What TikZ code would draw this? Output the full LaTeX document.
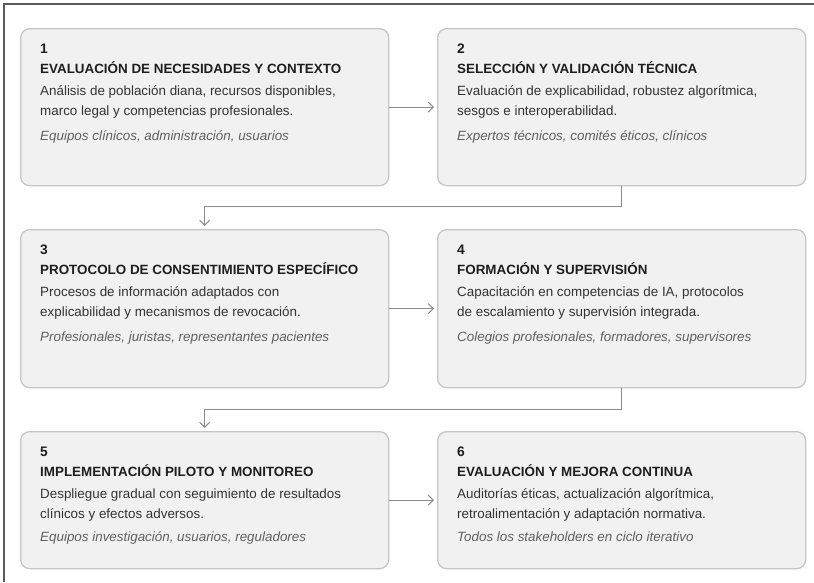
\documentclass[tikz,border=0pt]{standalone}
\usepackage{fontspec}
\setmainfont{Liberation Sans}
\usetikzlibrary{calc, arrows.meta}

\definecolor{boxfill}{HTML}{F1F1F1}
\definecolor{boxline}{HTML}{C6C6C6}
\definecolor{linkgray}{HTML}{8C8C8C}
\definecolor{framegray}{HTML}{5A5A5A}
\definecolor{titletext}{HTML}{1E1E1E}
\definecolor{bodytext}{HTML}{333333}
\definecolor{notetext}{HTML}{606060}

\begin{document}
\begin{tikzpicture}[x=1pt, y=-1pt,
	stage/.style={draw=boxline, fill=boxfill, line width=1.3pt, rounded corners=9pt,
		anchor=north west, minimum width=368pt, inner sep=0pt},
	num/.style={anchor=base west, inner sep=0pt, text=titletext, font=\fontsize{13.8}{16}\selectfont\bfseries},
	heading/.style={anchor=base west, inner sep=0pt, text=titletext, font=\fontsize{13.4}{16}\selectfont\bfseries},
	body/.style={anchor=base west, inner sep=0pt, text=bodytext, font=\fontsize{13.4}{16}\selectfont},
	note/.style={anchor=base west, inner sep=0pt, text=notetext, font=\fontsize{13.4}{16}\selectfont\itshape},
	link/.style={draw=linkgray, line width=1.1pt, shorten >=3pt, -{Straight Barb[length=5pt, width=10pt]}}
	]

	\useasboundingbox (0,0) rectangle (814,582);

% Frame.

	\draw[framegray, line width=2pt] (4,582) -- (4,4) -- (814,4);

% Draw stages.

	\node[stage, minimum height=157pt] (s1) at (20, 28) {};
	\node[stage, minimum height=157pt] (s2) at (437, 28) {};
	\node[stage, minimum height=158pt] (s3) at (20, 229) {};
	\node[stage, minimum height=158pt] (s4) at (437, 229) {};
	\node[stage, minimum height=137pt] (s5) at (20, 431) {};
	\node[stage, minimum height=137pt] (s6) at (437, 431) {};

% Stage texts.

	%stage 1
	\node[num] (n1) at ($(s1.north west) + (20, 25)$) {1};
	\node[heading] (h1) at ($(s1.north west) + (20, 45)$) {EVALUACIÓN DE NECESIDADES Y CONTEXTO};
	\node[body] (b1a) at ($(s1.north west) + (20, 67)$) {Análisis de población diana, recursos disponibles,};
	\node[body] (b1b) at ($(s1.north west) + (20, 87)$) {marco legal y competencias profesionales.};
	\node[note] (e1) at ($(s1.north west) + (20, 112)$) {Equipos clínicos, administración, usuarios};

	%stage 2
	\node[num] (n2) at ($(s2.north west) + (20, 25)$) {2};
	\node[heading] (h2) at ($(s2.north west) + (20, 45)$) {SELECCIÓN Y VALIDACIÓN TÉCNICA};
	\node[body] (b2a) at ($(s2.north west) + (20, 67)$) {Evaluación de explicabilidad, robustez algorítmica,};
	\node[body] (b2b) at ($(s2.north west) + (20, 87)$) {sesgos e interoperabilidad.};
	\node[note] (e2) at ($(s2.north west) + (20, 112)$) {Expertos técnicos, comités éticos, clínicos};

	%stage 3
	\node[num] (n3) at ($(s3.north west) + (20, 25)$) {3};
	\node[heading] (h3) at ($(s3.north west) + (20, 45)$) {PROTOCOLO DE CONSENTIMIENTO ESPECÍFICO};
	\node[body] (b3a) at ($(s3.north west) + (20, 67)$) {Procesos de información adaptados con};
	\node[body] (b3b) at ($(s3.north west) + (20, 87)$) {explicabilidad y mecanismos de revocación.};
	\node[note] (e3) at ($(s3.north west) + (20, 112)$) {Profesionales, juristas, representantes pacientes};

	%stage 4
	\node[num] (n4) at ($(s4.north west) + (20, 25)$) {4};
	\node[heading] (h4) at ($(s4.north west) + (20, 45)$) {FORMACIÓN Y SUPERVISIÓN};
	\node[body] (b4a) at ($(s4.north west) + (20, 67)$) {Capacitación en competencias de IA, protocolos};
	\node[body] (b4b) at ($(s4.north west) + (20, 87)$) {de escalamiento y supervisión integrada.};
	\node[note] (e4) at ($(s4.north west) + (20, 112)$) {Colegios profesionales, formadores, supervisores};

	%stage 5
	\node[num] (n5) at ($(s5.north west) + (20, 25)$) {5};
	\node[heading] (h5) at ($(s5.north west) + (20, 45)$) {IMPLEMENTACIÓN PILOTO Y MONITOREO};
	\node[body] (b5a) at ($(s5.north west) + (20, 67)$) {Despliegue gradual con seguimiento de resultados};
	\node[body] (b5b) at ($(s5.north west) + (20, 87)$) {clínicos y efectos adversos.};
	\node[note] (e5) at ($(s5.north west) + (20, 110)$) {Equipos investigación, usuarios, reguladores};

	%stage 6
	\node[num] (n6) at ($(s6.north west) + (20, 25)$) {6};
	\node[heading] (h6) at ($(s6.north west) + (20, 45)$) {EVALUACIÓN Y MEJORA CONTINUA};
	\node[body] (b6a) at ($(s6.north west) + (20, 67)$) {Auditorías éticas, actualización algorítmica,};
	\node[body] (b6b) at ($(s6.north west) + (20, 87)$) {retroalimentación y adaptación normativa.};
	\node[note] (e6) at ($(s6.north west) + (20, 110)$) {Todos los stakeholders en ciclo iterativo};

% Draw links.

	\draw[link] (s1.east) -- (s2.west);
	\draw[link] (s3.east) -- (s4.west);
	\draw[link] (s5.east) -- (s6.west);

	\draw[link] (s2.south) -- ++(0, 20) -| (s3.north);
	\draw[link] (s4.south) -- ++(0, 21) -| (s5.north);

\end{tikzpicture}
\end{document}
